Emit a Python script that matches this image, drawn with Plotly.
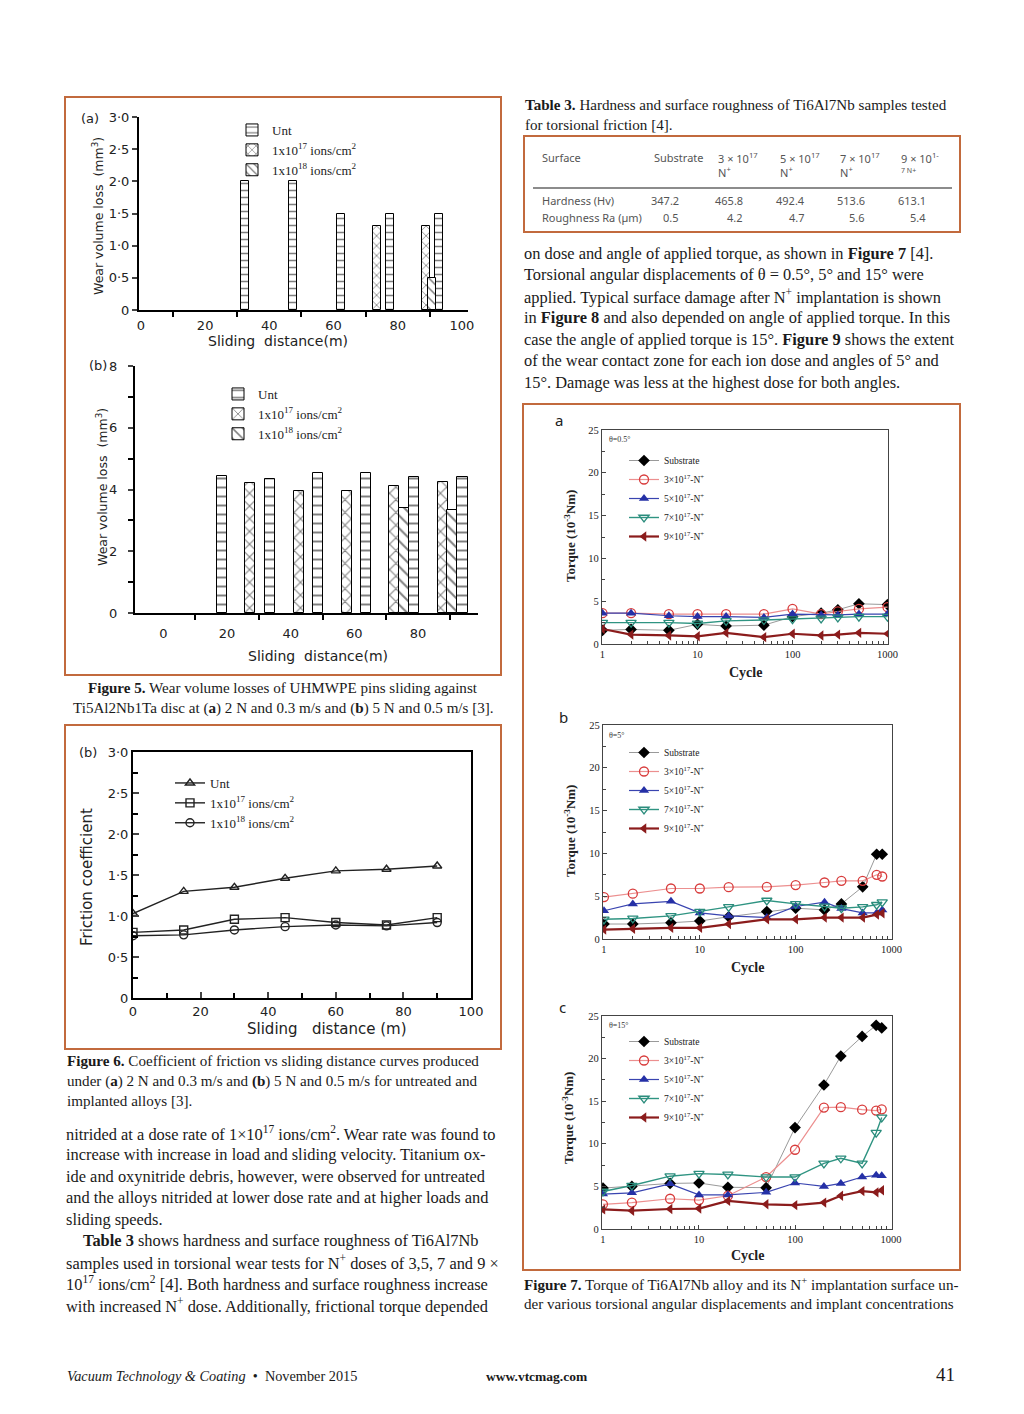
import plotly.graph_objects as go

W, H = 1024, 1414
SERIF = "Liberation Serif"
SANS = "DejaVu Sans"
TSANS = "Noto Sans"
BORDER = "#c26a3d"

# ---------------- Figure 5(a): wear volume loss, 2 N / 0.3 m/s ----------------
f5a_unt_x = [32.3, 47.4, 62.4, 77.6, 92.8]
f5a_unt_y = [2.0, 2.0, 1.5, 1.5, 1.5]
f5a_n17_x = [73.5, 88.7]
f5a_n17_y = [1.3, 1.3]
f5a_n18_x = [90.7]
f5a_n18_y = [0.5]

# ---------------- Figure 5(b): wear volume loss, 5 N / 0.5 m/s ----------------
f5b_unt_x = [18.4, 33.5, 48.6, 63.7, 78.8, 93.9]
f5b_unt_y = [4.45, 4.35, 4.55, 4.55, 4.4, 4.4]
f5b_n17_x = [27.2, 42.6, 57.7, 72.5, 87.9]
f5b_n17_y = [4.2, 3.95, 3.95, 4.1, 4.25]
f5b_n18_x = [75.6, 90.7]
f5b_n18_y = [3.4, 3.35]

# ---------------- Figure 6(b): friction coefficient ----------------
f6_x = [0, 15, 30, 45, 60, 75, 90]
f6_unt = [1.03, 1.30, 1.35, 1.46, 1.55, 1.57, 1.61]
f6_n17 = [0.80, 0.83, 0.96, 0.98, 0.92, 0.89, 0.98]
f6_n18 = [0.76, 0.77, 0.83, 0.87, 0.89, 0.88, 0.92]

# ---------------- Figure 7: torque vs cycle ----------------
f7a_cycle = [1, 2, 5, 10, 20, 50, 100, 200, 300, 500, 1000]
f7a_sub = [1.6, 1.7, 1.6, 2.3, 2.1, 2.2, 3.2, 3.6, 4.0, 4.7, 4.6]
f7a_n3 = [3.6, 3.6, 3.5, 3.5, 3.5, 3.5, 4.1, 3.5, 3.8, 4.1, 4.3]
f7a_n5 = [3.6, 3.6, 3.3, 3.2, 3.2, 3.1, 3.5, 3.4, 3.4, 3.5, 3.5]
f7a_n7 = [2.5, 2.5, 2.5, 2.4, 2.7, 2.8, 2.9, 3.0, 3.1, 3.2, 3.2]
f7a_n9 = [1.75, 1.1, 1.0, 0.9, 1.3, 0.8, 1.2, 1.0, 1.1, 1.3, 1.2]

f7b_cycle = [1, 2, 5, 10, 20, 50, 100, 200, 300, 500, 700, 800]
f7b_sub = [1.75, 1.75, 1.9, 2.1, 2.6, 3.2, 3.6, 3.4, 4.1, 6.1, 9.9, 9.9]
f7b_n3 = [4.9, 5.3, 5.9, 5.9, 6.05, 6.1, 6.3, 6.6, 6.8, 6.8, 7.5, 7.3]
f7b_n5 = [3.3, 4.1, 4.4, 3.05, 2.7, 2.5, 3.8, 4.3, 3.55, 3.05, 3.05, 3.4]
f7b_n7 = [2.3, 2.4, 2.7, 3.2, 3.75, 4.5, 4.1, 3.8, 3.6, 3.75, 4.0, 4.3]
f7b_n9 = [1.1, 1.2, 1.3, 1.3, 1.75, 2.3, 2.3, 2.5, 2.5, 2.5, 2.85, 3.0]

f7c_cycle = [1, 2, 5, 10, 20, 50, 100, 200, 300, 500, 700, 800]
f7c_sub = [4.8, 5.0, 5.35, 5.4, 4.9, 4.85, 11.9, 16.9, 20.3, 22.6, 23.9, 23.6]
f7c_n3 = [2.9, 3.1, 3.55, 3.4, 3.9, 6.1, 9.3, 14.25, 14.3, 14.0, 13.9, 14.05]
f7c_n5 = [4.1, 4.25, 5.3, 4.0, 4.0, 4.3, 5.4, 5.0, 5.35, 6.1, 6.3, 6.25]
f7c_n7 = [4.4, 5.1, 6.2, 6.5, 6.4, 6.1, 6.1, 7.7, 8.3, 7.7, 11.3, 13.1]
f7c_n9 = [2.3, 2.15, 2.35, 2.4, 3.3, 2.9, 2.8, 3.1, 3.9, 4.45, 4.3, 4.55]

f7_names = ["Substrate", "3×10<sup>17</sup>-N<sup>+</sup>", "5×10<sup>17</sup>-N<sup>+</sup>",
            "7×10<sup>17</sup>-N<sup>+</sup>", "9×10<sup>17</sup>-N<sup>+</sup>"]
f7_angles = ["θ=0.5°", "θ=5°", "θ=15°"]

# ---------------- Table 3 ----------------
tab_headers = ["Surface", "Substrate", "3 × 10<sup>17</sup>", "5 × 10<sup>17</sup>", "7 × 10<sup>17</sup>", "9 × 10<sup>1-</sup>"]
tab_header2 = ["", "", "N<sup>+</sup>", "N<sup>+</sup>", "N<sup>+</sup>", "7 N+"]
tab_rows = ["Hardness (Hv)", "Roughness Ra (µm)"]
tab_hardness = ["347.2", "465.8", "492.4", "513.6", "613.1"]
tab_roughness = ["0.5", "4.2", "4.7", "5.6", "5.4"]

# ---------------- Tick labels ----------------
f5a_yticks = [0, 0.5, 1.0, 1.5, 2.0, 2.5, 3.0]
f5a_ytext = ["0", "0·5", "1·0", "1·5", "2·0", "2·5", "3·0"]
f5a_xticks = [0, 20, 40, 60, 80, 100]
f5b_yticks = [0, 2, 4, 6, 8]
f5b_xticks = [0, 20, 40, 60, 80]
f6_yticks = [0, 0.5, 1.0, 1.5, 2.0, 2.5, 3.0]
f6_ytext = ["0", "0·5", "1·0", "1·5", "2·0", "2·5", "3·0"]
f6_xticks = [0, 20, 40, 60, 80, 100]
f7_xticks = [1, 10, 100, 1000]
f7_yticks = [0, 5, 10, 15, 20, 25]

# ---------------- Text ----------------
table_caption = ["<b>Table 3.</b> Hardness and surface roughness of Ti6Al7Nb samples tested",
                 "for torsional friction [4]."]
right_para = [
    "on dose and angle of applied torque, as shown in <b>Figure 7</b> [4].",
    "Torsional angular displacements of θ = 0.5°, 5° and 15° were",
    "applied. Typical surface damage after N<sup>+</sup> implantation is shown",
    "in <b>Figure 8</b> and also depended on angle of applied torque. In this",
    "case the angle of applied torque is 15°. <b>Figure 9</b> shows the extent",
    "of the wear contact zone for each ion dose and angles of 5° and",
    "15°. Damage was less at the highest dose for both angles.",
]
fig5_caption = ["<b>Figure 5.</b> Wear volume losses of UHMWPE pins sliding against",
                "Ti5Al2Nb1Ta disc at (<b>a</b>) 2 N and 0.3 m/s and (<b>b</b>) 5 N and 0.5 m/s [3]."]
fig6_caption = ["<b>Figure 6.</b> Coefficient of friction vs sliding distance curves produced",
                "under (<b>a</b>) 2 N and 0.3 m/s and <b>(b</b>) 5 N and 0.5 m/s for untreated and",
                "implanted alloys [3]."]
left_para = [
    "nitrided at a dose rate of 1×10<sup>17</sup> ions/cm<sup>2</sup>. Wear rate was found to",
    "increase with increase in load and sliding velocity. Titanium ox-",
    "ide and oxynitride debris, however, were observed for untreated",
    "and the alloys nitrided at lower dose rate and at higher loads and",
    "sliding speeds.",
    "<b>Table 3</b> shows hardness and surface roughness of Ti6Al7Nb",
    "samples used in torsional wear tests for N<sup>+</sup> doses of 3,5, 7 and 9 ×",
    "10<sup>17</sup> ions/cm<sup>2</sup> [4]. Both hardness and surface roughness increase",
    "with increased N<sup>+</sup> dose. Additionally, frictional torque depended",
]
left_para_indent = [0, 0, 0, 0, 0, 17, 0, 0, 0]
fig7_caption = ["<b>Figure 7.</b> Torque of Ti6Al7Nb alloy and its N<sup>+</sup> implantation surface un-",
                "der various torsional angular displacements and implant concentrations"]


def X(p):
    return p / W


def Y(p):
    return 1 - p / H


def xd(a, b):
    return [a / W, b / W]


def yd(top, bottom):
    return [1 - bottom / H, 1 - top / H]


fig = go.Figure()

# ---- Figure 5 bars ----
def pat(shape, size):
    return dict(color="white", line=dict(color="black", width=1),
                pattern=dict(shape=shape, fgcolor="black", bgcolor="white", size=size, solidity=0.22))

bar_sets = [
    ("x", "y", "legend", 2.5, 7,
     [(f5a_unt_x, f5a_unt_y, "-", "Unt"),
      (f5a_n17_x, f5a_n17_y, "x", "1x10<sup>17</sup> ions/cm<sup>2</sup>"),
      (f5a_n18_x, f5a_n18_y, "\\", "1x10<sup>18</sup> ions/cm<sup>2</sup>")]),
    ("x2", "y2", "legend2", 3.4, 9,
     [(f5b_unt_x, f5b_unt_y, "-", "Unt"),
      (f5b_n17_x, f5b_n17_y, "x", "1x10<sup>17</sup> ions/cm<sup>2</sup>"),
      (f5b_n18_x, f5b_n18_y, "\\", "1x10<sup>18</sup> ions/cm<sup>2</sup>")]),
]
for xa, ya, lg, wdt, psz, series in bar_sets:
    for xs, ys, shp, nm in series:
        fig.add_trace(go.Bar(x=xs, y=ys, width=wdt, name=nm, marker=pat(shp, psz),
                             xaxis=xa, yaxis=ya, legend=lg, showlegend=True))

# ---- Figure 6 lines ----
for ys, sym, nm in [(f6_unt, "triangle-up-open", "Unt"),
                    (f6_n17, "square-open", "1x10<sup>17</sup> ions/cm<sup>2</sup>"),
                    (f6_n18, "circle-open", "1x10<sup>18</sup> ions/cm<sup>2</sup>")]:
    fig.add_trace(go.Scatter(x=f6_x, y=ys, mode="lines+markers", name=nm,
                             line=dict(color="#222", width=1.4),
                             marker=dict(symbol=sym, size=8, color="#222", line=dict(width=1.4)),
                             xaxis="x3", yaxis="y3", legend="legend3"))

# ---- Figure 7 lines ----
styles = [
    dict(line=dict(color="#9a9a9a", width=1), marker=dict(symbol="diamond", size=9, color="black")),
    dict(line=dict(color="#ec8f8f", width=1.2), marker=dict(symbol="circle-open", size=9, color="#d83c3c", line=dict(width=1.3))),
    dict(line=dict(color="#3944b0", width=1.2), marker=dict(symbol="triangle-up", size=9, color="#2530a6")),
    dict(line=dict(color="#2f9482", width=1.4), marker=dict(symbol="triangle-down-open", size=9, color="#2a8c7c", line=dict(width=1.3))),
    dict(line=dict(color="#8b1c1c", width=2.2), marker=dict(symbol="triangle-left", size=9, color="#8b1c1c")),
]
panels7 = [
    ("x4", "y4", "legend4", f7a_cycle, [f7a_sub, f7a_n3, f7a_n5, f7a_n7, f7a_n9]),
    ("x5", "y5", "legend5", f7b_cycle, [f7b_sub, f7b_n3, f7b_n5, f7b_n7, f7b_n9]),
    ("x6", "y6", "legend6", f7c_cycle, [f7c_sub, f7c_n3, f7c_n5, f7c_n7, f7c_n9]),
]
for xa, ya, lg, cyc, series in panels7:
    for ys, nm, st in zip(series, f7_names, styles):
        fig.add_trace(go.Scatter(x=cyc, y=ys, mode="lines+markers", name=nm,
                                 xaxis=xa, yaxis=ya, legend=lg, **st))

# ---- Axes ----
tickfont56 = dict(family=SANS, size=13, color="#222")
tickfont7 = dict(family=SERIF, size=10.5, color="#222")

lay = dict(
    width=W, height=H, autosize=False,
    margin=dict(l=0, r=0, t=0, b=0, pad=0, autoexpand=False),
    paper_bgcolor="white", plot_bgcolor="rgba(0,0,0,0)",
    barmode="overlay", bargap=0,
    hovermode=False,
)

# 5a
lay["xaxis"] = dict(domain=xd(139, 468), range=[-0.6, 101.9], anchor="y",
                    showline=True, linecolor="black", linewidth=2, showgrid=False, zeroline=False,
                    tickmode="array", tickvals=f5a_xticks, ticks="outside", ticklen=0,
                    ticklabelstandoff=2, tickfont=tickfont56, automargin=False,
                    minor=dict(tickmode="array", tickvals=[10, 30, 50, 70, 90], ticks="outside",
                               ticklen=5, tickcolor="black", tickwidth=1.5, showgrid=False))
lay["yaxis"] = dict(domain=yd(117, 310), range=[0, 3.0], anchor="x",
                    showline=True, linecolor="black", linewidth=2, showgrid=False, zeroline=False,
                    tickmode="array", tickvals=f5a_yticks, ticktext=f5a_ytext, automargin=False,
                    ticks="outside", ticklen=5, tickwidth=1.5, tickfont=tickfont56)
# 5b
lay["xaxis2"] = dict(domain=xd(135, 478), range=[-8.96, 98.9], anchor="y2",
                     showline=True, linecolor="black", linewidth=2, showgrid=False, zeroline=False,
                     tickmode="array", tickvals=f5b_xticks, ticks="outside", ticklen=0,
                     ticklabelstandoff=7, tickfont=tickfont56, automargin=False,
                     minor=dict(tickmode="array", tickvals=[10, 30, 50, 70, 90], ticks="outside",
                                ticklen=5, tickcolor="black", tickwidth=1.5, showgrid=False))
lay["yaxis2"] = dict(domain=yd(366, 613), range=[0, 8], anchor="x2",
                     showline=True, linecolor="black", linewidth=2, showgrid=False, zeroline=False,
                     tickmode="array", tickvals=f5b_yticks, ticks="outside", ticklen=5, tickwidth=1.5,
                     tickfont=tickfont56, ticklabelstandoff=8, automargin=False,
                     minor=dict(tickmode="array", tickvals=[1, 3, 5, 7], ticks="outside",
                                ticklen=5, tickcolor="black", tickwidth=1.5, showgrid=False))
# 6
lay["xaxis3"] = dict(domain=xd(133, 471), range=[0, 100], anchor="y3",
                     showline=True, mirror=True, linecolor="black", linewidth=2, showgrid=False, zeroline=False,
                     tickmode="array", tickvals=f6_xticks, ticks="inside", ticklen=6, tickwidth=1.5,
                     tickfont=tickfont56, automargin=False,
                     minor=dict(tickmode="array", tickvals=[10, 30, 50, 70, 90], ticks="inside",
                                ticklen=5, tickcolor="black", tickwidth=1.5, showgrid=False))
lay["yaxis3"] = dict(domain=yd(752, 998), range=[0, 3.0], anchor="x3",
                     showline=True, mirror=True, linecolor="black", linewidth=2, showgrid=False, zeroline=False,
                     tickmode="array", tickvals=f6_yticks, ticktext=f6_ytext, ticks="inside", ticklen=6,
                     tickwidth=1.5, tickfont=tickfont56, automargin=False,
                     minor=dict(tickmode="array", tickvals=[0.25, 0.75, 1.25, 1.75, 2.25, 2.75],
                                ticks="inside", ticklen=5, tickcolor="black", tickwidth=1.5, showgrid=False))
# 7 a,b,c
f7_dom = [((602, 888), (430, 644), [-0.005, 3.005]),
          ((603, 892), (725, 939), [-0.01, 3.005]),
          ((602, 892), (1016, 1229), [-0.01, 3.01])]
minor_log = [2, 3, 4, 5, 6, 7, 8, 9, 20, 30, 40, 50, 60, 70, 80, 90, 200, 300, 400, 500, 600, 700, 800, 900]
for i, ((xa0, xa1), (yt, yb), xr) in enumerate(f7_dom):
    n = i + 4
    lay[f"xaxis{n}"] = dict(domain=xd(xa0, xa1), type="log", range=xr, anchor=f"y{n}",
                            showline=True, mirror=True, linecolor="#444", linewidth=1.3,
                            showgrid=False, zeroline=False, automargin=False,
                            tickmode="array", tickvals=f7_xticks, ticktext=[str(v) for v in f7_xticks],
                            ticks="inside", ticklen=4, tickcolor="#444", tickfont=tickfont7,
                            tickprefix="<b>", ticksuffix="</b>",
                            minor=dict(tickmode="array", tickvals=minor_log, ticks="inside",
                                       ticklen=2.5, tickcolor="#444", showgrid=False))
    lay[f"yaxis{n}"] = dict(domain=yd(yt, yb), range=[0, 25], anchor=f"x{n}",
                            showline=True, mirror=True, linecolor="#444", linewidth=1.3,
                            showgrid=False, zeroline=False, automargin=False,
                            tickmode="array", tickvals=f7_yticks, ticks="inside", ticklen=4,
                            tickcolor="#444", tickfont=tickfont7, tickprefix="<b>", ticksuffix="</b>",
                            minor=dict(tickmode="array", tickvals=[2.5, 7.5, 12.5, 17.5, 22.5],
                                       ticks="inside", ticklen=2.5, tickcolor="#444", showgrid=False))

# ---- Legends ----
def leg(xp, yp, fam, size):
    return dict(x=X(xp), y=Y(yp), xanchor="left", yanchor="top", bgcolor="rgba(0,0,0,0)",
                font=dict(family=fam, size=size, color="#222"), tracegroupgap=0,
                itemwidth=30, borderwidth=0, traceorder="normal")

lay["legend"] = leg(232, 115, SERIF, 13)
lay["legend2"] = leg(218, 379, SERIF, 13)
lay["legend3"] = leg(170, 768, SERIF, 13)
lay["legend4"] = leg(624, 446, SERIF, 9.5)
lay["legend5"] = leg(624, 738, SERIF, 9.5)
lay["legend6"] = leg(624, 1027, SERIF, 9.5)

# ---- Annotations ----
ann = []


def T(text, x, y, size, fam=SERIF, xa="left", color="#1a1a1a", angle=0, ya="middle"):
    ann.append(dict(text=text, x=X(x), y=Y(y), xref="paper", yref="paper", showarrow=False,
                    xanchor=xa, yanchor=ya, textangle=angle,
                    font=dict(family=fam, size=size, color=color)))


BODY = 16.4
CAP = 15.1

# Figure 5 labels
T("(a)", 90, 119, 13, SANS, "center", "#222")
T("Wear volume loss  (mm<sup>3</sup>)", 98, 216, 12.5, SANS, "center", "#222", -90)
T("Sliding  distance(m)", 278, 341, 14, SANS, "center", "#222")
T("(b)", 98, 366, 13, SANS, "center", "#222")
T("Wear volume loss  (mm<sup>3</sup>)", 102, 487, 12.5, SANS, "center", "#222", -90)
T("Sliding  distance(m)", 318, 656, 14, SANS, "center", "#222")
# Figure 6 labels
T("(b)", 88, 752, 13, SANS, "center", "#222")
T("Friction coefficient", 87, 877, 15, SANS, "center", "#222", -90)
T("Sliding   distance (m)", 327, 1029, 15, SANS, "center", "#222")
# Figure 7 labels
for lbl, (lx, ly), (tx, ty), (cx, cy), ang, (ax_, ay_) in [
    ("a", (559, 420), (570, 536), (745, 672), f7_angles[0], (607, 439)),
    ("b", (563, 717), (570, 831), (747, 967), f7_angles[1], (607, 735)),
    ("c", (562, 1007), (568, 1118), (747, 1255), f7_angles[2], (607, 1025)),
]:
    T(lbl, lx, ly, 15, TSANS, "center", "#222")
    T("<b>Torque (10<sup>-3</sup>Nm)</b>", tx, ty, 13, SERIF, "center", "#222", -90)
    T("<b>Cycle</b>", cx, cy, 14, SERIF, "center", "#222")
    T(ang, ax_, ay_, 8, SERIF, "left", "#333")

# Table 3
for i, t in enumerate(table_caption):
    T(t, 523, 105 + 20 * i, CAP)
col_left = [540, 652, 716, 778, 838, 899]
col_right = [681, 745, 807, 867, 928]
TC = "#555"
for i, h in enumerate(tab_headers):
    T(h, col_left[i], 158, 11, TSANS, "left", TC)
for i, h in enumerate(tab_header2):
    if h:
        T(h, col_left[i], 172 if i < 5 else 170, 11 if i < 5 else 7, TSANS, "left", TC)
T(tab_rows[0], 540, 201, 11, TSANS, "left", TC)
T(tab_rows[1], 540, 217, 11, TSANS, "left", TC)
for i, v in enumerate(tab_hardness):
    T(v, col_right[i], 201, 11, TSANS, "right", TC)
for i, v in enumerate(tab_roughness):
    T(v, col_right[i], 217, 11, TSANS, "right", TC)

# Body text
for i, t in enumerate(right_para):
    T(t, 522, 253 + 21.5 * i, BODY)
for i, t in enumerate(fig5_caption):
    T(t, 283, 688 + 20 * i, CAP, SERIF, "center")
for i, t in enumerate(fig6_caption):
    T(t, 65, 1061 + 20 * i, CAP)
for i, t in enumerate(left_para):
    T(t, 64 + left_para_indent[i], 1133 + 21.5 * i, BODY)
for i, t in enumerate(fig7_caption):
    T(t, 522, 1284 + 20 * i, CAP)

# Footer
T("<i>Vacuum Technology & Coating</i>  •  November 2015", 65, 1376, 14.3)
T("<b>www.vtcmag.com</b>", 537, 1376, 13.5, SERIF, "center")
T("41", 957, 1374, 19, SERIF, "right")

lay["annotations"] = ann

# ---- Shapes (frames) ----
def rect(x0, y0, x1, y1, color=BORDER, w=2):
    return dict(type="rect", xref="paper", yref="paper", x0=X(x0), x1=X(x1), y0=Y(y1), y1=Y(y0),
                line=dict(color=color, width=w), fillcolor="rgba(0,0,0,0)", layer="above")

lay["shapes"] = [
    rect(65, 97, 501, 675),
    rect(65, 725, 501, 1049),
    rect(524, 136, 960, 232),
    rect(523, 404, 960, 1270),
    dict(type="line", xref="paper", yref="paper", x0=X(533), x1=X(952), y0=Y(188), y1=Y(188),
         line=dict(color="#666", width=1.5)),
]

fig.update_layout(**lay)
fig.write_html("out.html", config={"displayModeBar": False, "responsive": False},
               post_script="document.body.style.margin='0';")
